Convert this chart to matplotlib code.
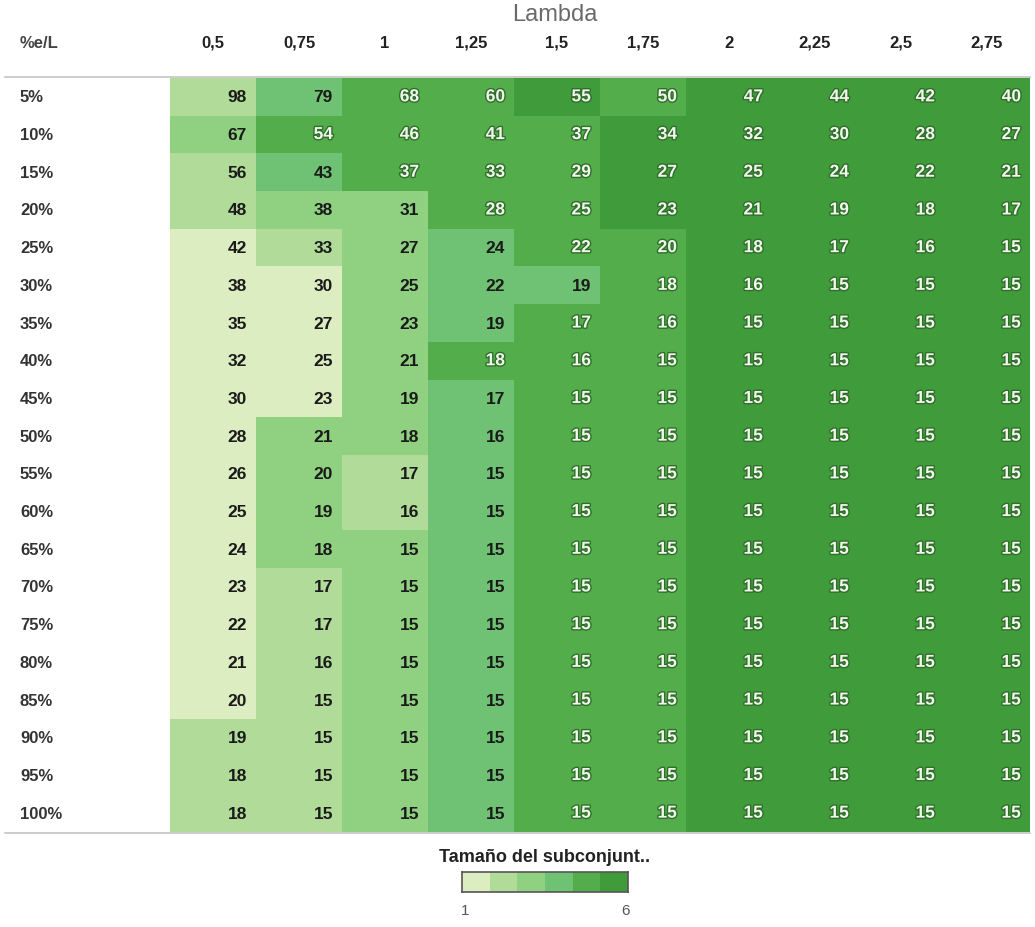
import numpy as np
import matplotlib
matplotlib.use('Agg')
import matplotlib.pyplot as plt
from matplotlib.colors import ListedColormap
import matplotlib.patheffects as pe

plt.rcParams['font.family'] = ['Liberation Sans', 'DejaVu Sans']

# datos de la tabla
lambdas = ['0,5', '0,75', '1', '1,25', '1,5', '1,75', '2', '2,25', '2,5', '2,75']
filas = ['5%', '10%', '15%', '20%', '25%', '30%', '35%', '40%', '45%', '50%',
         '55%', '60%', '65%', '70%', '75%', '80%', '85%', '90%', '95%', '100%']

valores = [
    [98, 79, 68, 60, 55, 50, 47, 44, 42, 40],
    [67, 54, 46, 41, 37, 34, 32, 30, 28, 27],
    [56, 43, 37, 33, 29, 27, 25, 24, 22, 21],
    [48, 38, 31, 28, 25, 23, 21, 19, 18, 17],
    [42, 33, 27, 24, 22, 20, 18, 17, 16, 15],
    [38, 30, 25, 22, 19, 18, 16, 15, 15, 15],
    [35, 27, 23, 19, 17, 16, 15, 15, 15, 15],
    [32, 25, 21, 18, 16, 15, 15, 15, 15, 15],
    [30, 23, 19, 17, 15, 15, 15, 15, 15, 15],
    [28, 21, 18, 16, 15, 15, 15, 15, 15, 15],
    [26, 20, 17, 15, 15, 15, 15, 15, 15, 15],
    [25, 19, 16, 15, 15, 15, 15, 15, 15, 15],
    [24, 18, 15, 15, 15, 15, 15, 15, 15, 15],
    [23, 17, 15, 15, 15, 15, 15, 15, 15, 15],
    [22, 17, 15, 15, 15, 15, 15, 15, 15, 15],
    [21, 16, 15, 15, 15, 15, 15, 15, 15, 15],
    [20, 15, 15, 15, 15, 15, 15, 15, 15, 15],
    [19, 15, 15, 15, 15, 15, 15, 15, 15, 15],
    [18, 15, 15, 15, 15, 15, 15, 15, 15, 15],
    [18, 15, 15, 15, 15, 15, 15, 15, 15, 15],
]

# tamano del subconjunto (color de cada celda, 1..6)
tamano = [
    [2, 4, 5, 5, 6, 5, 6, 6, 6, 6],
    [3, 5, 5, 5, 5, 6, 6, 6, 6, 6],
    [2, 4, 5, 5, 5, 6, 6, 6, 6, 6],
    [2, 3, 3, 5, 5, 6, 6, 6, 6, 6],
    [1, 2, 3, 4, 5, 5, 6, 6, 6, 6],
    [1, 1, 3, 4, 4, 5, 6, 6, 6, 6],
    [1, 1, 3, 4, 5, 5, 6, 6, 6, 6],
    [1, 1, 3, 5, 5, 5, 6, 6, 6, 6],
    [1, 1, 3, 4, 5, 5, 6, 6, 6, 6],
    [1, 3, 3, 4, 5, 5, 6, 6, 6, 6],
    [1, 3, 2, 4, 5, 5, 6, 6, 6, 6],
    [1, 3, 2, 4, 5, 5, 6, 6, 6, 6],
    [1, 3, 3, 4, 5, 5, 6, 6, 6, 6],
    [1, 2, 3, 4, 5, 5, 6, 6, 6, 6],
    [1, 2, 3, 4, 5, 5, 6, 6, 6, 6],
    [1, 2, 3, 4, 5, 5, 6, 6, 6, 6],
    [1, 2, 3, 4, 5, 5, 6, 6, 6, 6],
    [2, 2, 3, 4, 5, 5, 6, 6, 6, 6],
    [2, 2, 3, 4, 5, 5, 6, 6, 6, 6],
    [2, 2, 3, 4, 5, 5, 6, 6, 6, 6],
]

colores = ['#dcedc1', '#b0db98', '#8fd081', '#6fc173', '#54ad4b', '#409b3b']
cmap = ListedColormap(colores)

W, H = 1035, 928
fig = plt.figure(figsize=(W / 100, H / 100), dpi=100)

# lineas grises de la tabla
fig.add_artist(plt.Line2D([5 / W, 1030 / W], [1 - 78 / H, 1 - 78 / H], color='#c4c4c4', lw=1.2))
fig.add_artist(plt.Line2D([5 / W, 1030 / W], [1 - 834 / H, 1 - 834 / H], color='#c4c4c4', lw=1.2))

x0, x1, y0, y1 = 170, 1030, 79, 833
ax = fig.add_axes([x0 / W, 1 - y1 / H, (x1 - x0) / W, (y1 - y0) / H])
M = np.array(tamano)
ax.imshow(M, cmap=cmap, vmin=0.5, vmax=6.5, aspect='auto', interpolation='nearest')
ax.set_axis_off()

cw = (x1 - x0) / len(lambdas)
for i in range(len(filas)):
    for j in range(len(lambdas)):
        if M[i, j] >= 5:
            ax.text(j + 0.5 - 9 / cw, i, str(valores[i][j]), ha='right', va='center',
                    fontsize=12.5, fontweight='bold', color='#f2f7ee',
                    path_effects=[pe.withStroke(linewidth=2, foreground='#2f6f2a')])
        else:
            ax.text(j + 0.5 - 9 / cw, i, str(valores[i][j]), ha='right', va='center',
                    fontsize=12.5, fontweight='bold', color='#1a1a1a')

# encabezados
for j, lab in enumerate(lambdas):
    fig.text((x0 + cw * (j + 0.5)) / W, 1 - 43 / H, lab, ha='center', va='center',
             fontsize=12, fontweight='bold', color='#222222')
fig.text(20 / W, 1 - 43 / H, '%e/L', ha='left', va='center', fontsize=12,
         fontweight='bold', color='#444444')
fig.text(555 / W, 1 - 15 / H, 'Lambda', ha='center', va='center', fontsize=17,
         color='#6a6a6a')

rh = (y1 - y0) / len(filas)
for i, lab in enumerate(filas):
    fig.text(20 / W, 1 - (y0 + rh * (i + 0.5)) / H, lab, ha='left', va='center',
             fontsize=12, fontweight='bold', color='#333333')

# leyenda
fig.text(545 / W, 1 - 858 / H, 'Tamaño del subconjunt..', ha='center', va='center',
         fontsize=13, fontweight='bold', color='#222222')
lax = fig.add_axes([462 / W, 1 - 893 / H, 166 / W, 20 / H])
lax.imshow(np.array([[1, 2, 3, 4, 5, 6]]), cmap=cmap, vmin=0.5, vmax=6.5, aspect='auto')
lax.set_xticks([])
lax.set_yticks([])
for s in lax.spines.values():
    s.set_color('#555555')
    s.set_linewidth(1.2)
fig.text(465 / W, 1 - 911 / H, '1', ha='center', va='center', fontsize=11, color='#555555')
fig.text(625 / W, 1 - 911 / H, '6', ha='center', va='center', fontsize=11, color='#555555')

fig.savefig('out.png', dpi=100)
